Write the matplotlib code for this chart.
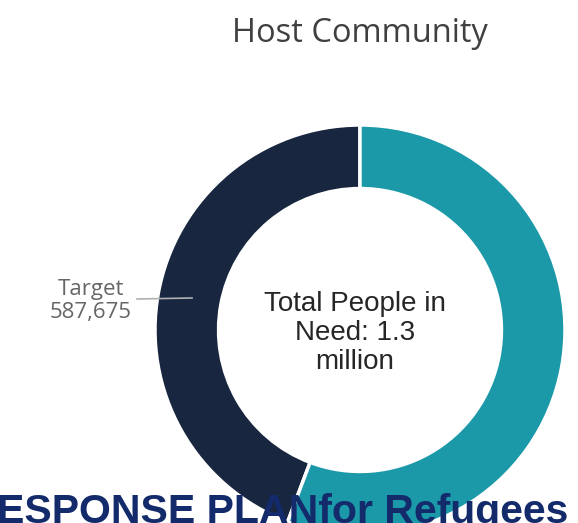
import matplotlib.pyplot as plt

# Дані
labels = ["Target", "Other"]
values = [587675, 740000]
colors = ["#18263f", "#1b99a9"]
total_label = "Total People in\nNeed: 1.3\nmillion"
title = "Host Community"

W, H = 578, 523
fig = plt.figure(figsize=(W / 100, H / 100), dpi=100)
ax = fig.add_axes([0, 0, 1, 1])

# Кільцева діаграма (координати у пікселях, вісь y вгору)
cx, cy, R = 360, H - 330, 205
ax.pie(
    values,
    colors=colors,
    startangle=90,
    counterclock=True,
    radius=R,
    center=(cx, cy),
    wedgeprops=dict(width=R * 0.31, edgecolor="white", linewidth=2.5),
)
ax.set_xlim(0, W)
ax.set_ylim(0, H)
ax.set_aspect("equal")
ax.axis("off")

# Заголовок
ax.text(360, H - 33, title, ha="center", va="center", fontsize=23.5,
        family="Open Sans", color="#404040")

# Текст у центрі
ax.text(355, H - 333, total_label, ha="center", va="center", fontsize=20,
        family="Liberation Sans", color="#262626", linespacing=1.15)

# Підпис сегмента
ax.text(91, H - 301, f"{labels[0]}\n{values[0]:,}", ha="center", va="center",
        fontsize=16, family="Open Sans", color="#666666", linespacing=1.1)
ax.plot([137, 192], [H - 299, H - 298], color="#b0b0b0", linewidth=1.2)

# Обрізаний текст документа внизу
ax.text(-3, H - 512, "ESPONSE PLANfor Refugees", ha="left", va="center",
        fontsize=29.5, fontweight="bold", family="Liberation Sans",
        color="#132a6b")

plt.savefig("out.png", dpi=100)
